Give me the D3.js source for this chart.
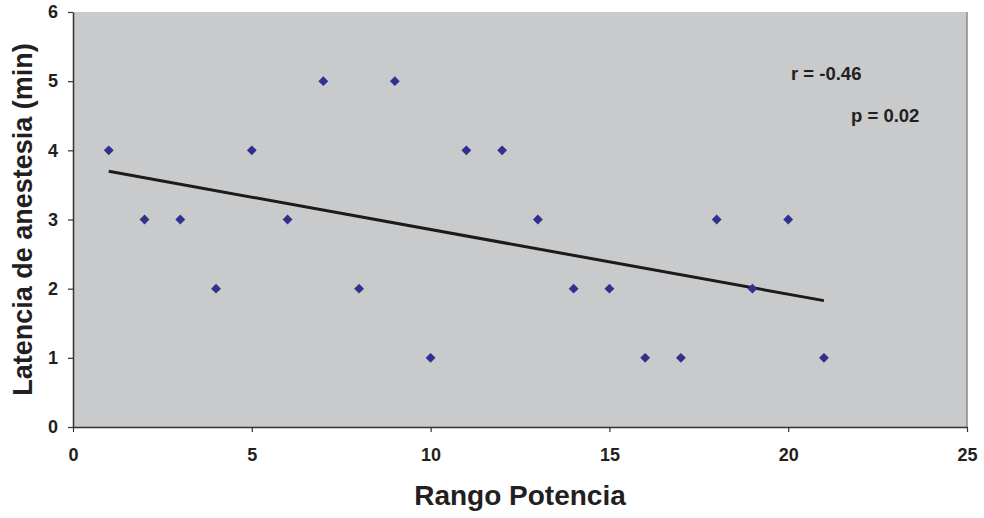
<!DOCTYPE html>
<html>
<head>
<meta charset="utf-8">
<script src="https://cdn.jsdelivr.net/npm/d3@7"></script>
<style>
  body { margin: 0; background: #fff; }
  text { font-family: Arial, "Liberation Sans", sans-serif; font-weight: bold; fill: #231f20; }
</style>
</head>
<body>
<script>
var w = 984;
var h = 518;
var margin = {top: 12, right: 17, bottom: 91, left: 73};

// data
var rango = [1, 2, 3, 4, 5, 6, 7, 8, 9, 10, 11, 12, 13, 14, 15, 16, 17, 18, 19, 20, 21];
var latencia = [4, 3, 3, 2, 4, 3, 5, 2, 5, 1, 4, 4, 3, 2, 2, 1, 1, 3, 2, 3, 1];
var xTicks = [0, 5, 10, 15, 20, 25];
var yTicks = [0, 1, 2, 3, 4, 5, 6];
var statsLabels = ['r = -0.46', 'p = 0.02'];

var points = rango.map(function(d, i) { return {x: d, y: latencia[i]}; });

var x = d3.scaleLinear().domain([0, 25]).range([margin.left, w - margin.right]);
var y = d3.scaleLinear().domain([0, 6]).range([h - margin.bottom, margin.top]);

var svg = d3.select('body')
   .append('svg')
   .attr('width', w)
   .attr('height', h);

// plot background
svg.append('rect')
   .attr('x', x(0))
   .attr('y', y(6))
   .attr('width', x(25) - x(0))
   .attr('height', y(0) - y(6))
   .attr('fill', '#c9cacc');

// right border
svg.append('line')
   .attr('x1', x(25)).attr('x2', x(25))
   .attr('y1', y(6)).attr('y2', y(0))
   .attr('stroke', '#8a8a8a')
   .attr('stroke-width', 1.5);

// axes
var xAxis = svg.append('g')
   .attr('transform', 'translate(0,' + y(0) + ')')
   .call(d3.axisBottom(x).tickValues(xTicks).tickFormat(d3.format('d'))
      .tickSize(5).tickPadding(16).tickSizeOuter(0));
var yAxis = svg.append('g')
   .attr('transform', 'translate(' + x(0) + ',0)')
   .call(d3.axisLeft(y).tickValues(yTicks).tickFormat(d3.format('d'))
      .tickSize(5).tickPadding(10).tickSizeOuter(0));

[xAxis, yAxis].forEach(function(g) {
   g.attr('font-size', 18);
   g.select('.domain').attr('stroke', '#333').attr('stroke-width', 1.5);
   g.selectAll('.tick line').attr('stroke', '#333').attr('stroke-width', 1.2);
   g.selectAll('.tick text').attr('fill', '#231f20');
});

// least squares trend line from the data
var mx = d3.mean(rango), my = d3.mean(latencia);
var sxy = d3.sum(points, function(d) { return (d.x - mx) * (d.y - my); });
var sxx = d3.sum(points, function(d) { return (d.x - mx) * (d.x - mx); });
var slope = sxy / sxx;
var intercept = my - slope * mx;
var x0 = d3.min(rango), x1 = d3.max(rango);

svg.append('line')
   .attr('x1', x(x0)).attr('y1', y(intercept + slope * x0))
   .attr('x2', x(x1)).attr('y2', y(intercept + slope * x1))
   .attr('stroke', '#1c1a1b')
   .attr('stroke-width', 3);

// diamond markers
svg.selectAll('path.pt')
   .data(points)
   .enter()
   .append('path')
   .attr('class', 'pt')
   .attr('d', d3.symbol().type(d3.symbolDiamond2).size(62))
   .attr('transform', function(d) {
      return 'translate(' + x(d.x) + ',' + y(d.y) + ')';
   })
   .attr('fill', '#30308f');

// stats annotations
svg.append('text')
   .attr('x', 791).attr('y', 80)
   .attr('font-size', '18.5px')
   .text(statsLabels[0]);
svg.append('text')
   .attr('x', 851).attr('y', 122)
   .attr('font-size', '18.5px')
   .text(statsLabels[1]);

// axis titles
svg.append('text')
   .attr('x', (x(0) + x(25)) / 2)
   .attr('y', 505)
   .attr('text-anchor', 'middle')
   .attr('font-size', '28px')
   .text('Rango Potencia');

svg.append('text')
   .attr('transform', 'translate(32,' + ((y(0) + y(6)) / 2) + ') rotate(-90)')
   .attr('text-anchor', 'middle')
   .attr('font-size', '27px')
   .text('Latencia de anestesia (min)');
</script>
</body>
</html>
